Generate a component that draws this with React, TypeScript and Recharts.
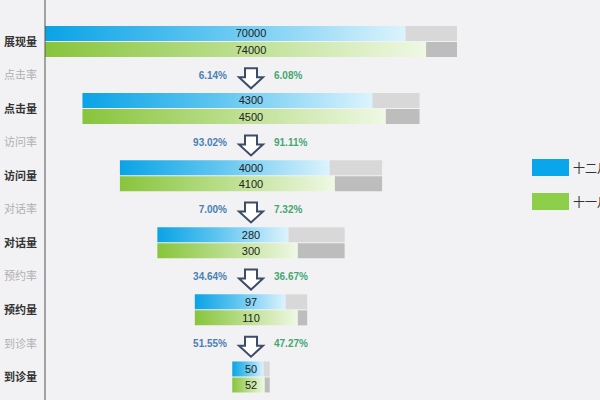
import React from 'react';
import { BarChart, Bar, XAxis, YAxis, ReferenceDot } from 'recharts';

// funnel stages and conversion rates
const stages = ['展现量', '点击量', '访问量', '对话量', '预约量', '到诊量'];
const rateNames = ['点击率', '访问率', '对话率', '预约率', '到诊率'];

const decValues = [70000, 4300, 4000, 280, 97, 50];
const novValues = [74000, 4500, 4100, 300, 110, 52];
// full length of each grey track
const trackMax = [80000, 5000, 5000, 400, 120, 60];
// display width of each funnel step
const stepWidth = [5.5, 4.5, 3.5, 2.5, 1.5, 0.5];

const decRates = ['6.14%', '93.02%', '7.00%', '34.64%', '51.55%'];
const novRates = ['6.08%', '91.11%', '7.32%', '36.67%', '47.27%'];

const seriesNames = ['十二月', '十一月'];
const seriesColors = ['#0aa6ec', '#8dcf4a'];

const FULL = 5.5;
const CN = '"Noto Sans CJK SC", "Noto Sans", sans-serif';

const rows: any[] = [];
stages.forEach((s, i) => {
    const w = stepWidth[i];
    const off = (FULL - w) / 2;
    const decFill = (w * decValues[i]) / trackMax[i];
    const novFill = (w * novValues[i]) / trackMax[i];
    rows.push({
        name: s,
        decOff: off, decFill, decRest: w - decFill,
        novOff: off, novFill, novRest: w - novFill,
    });
    if (i < rateNames.length) rows.push({ name: rateNames[i] });
});

const YTick = (props: any) => {
    const isRate = rateNames.includes(props.payload.value);
    return (
        <text x={37} y={props.y} dy="0.35em" textAnchor="end" fontFamily={CN} fontSize={11}
            fontWeight={isRate ? 400 : 700} fill={isRate ? '#b0b0b0' : '#333'}>
            {props.payload.value}
        </text>
    );
};

const rateShape = (i: number) => (p: any) => {
    const { cx, cy } = p;
    const arrow = `M${cx - 6},${cy - 7} L${cx + 6},${cy - 7} L${cx + 6},${cy + 2} L${cx + 12},${cy + 2} L${cx},${cy + 13} L${cx - 12},${cy + 2} L${cx - 6},${cy + 2} Z`;
    return (
        <g>
            <text x={cx - 24} y={cy} dy="0.35em" textAnchor="end" fontFamily="Arial, sans-serif" fontSize={10} fontWeight={700} fill="#4a80b3">
                {decRates[i]}
            </text>
            <path d={arrow} fill="#fff" stroke="#3d4d68" strokeWidth={2} strokeLinejoin="miter" />
            <text x={cx + 23} y={cy} dy="0.35em" textAnchor="start" fontFamily="Arial, sans-serif" fontSize={10} fontWeight={700} fill="#45a672">
                {novRates[i]}
            </text>
        </g>
    );
};

const valueShape = (i: number) => (p: any) => {
    const { cx, cy } = p;
    return (
        <g fontFamily="Arial, sans-serif" fontSize={11} fill="#222" textAnchor="middle">
            <text x={cx} y={cy - 8.3} dy="0.35em">{decValues[i]}</text>
            <text x={cx} y={cy + 8.3} dy="0.35em">{novValues[i]}</text>
        </g>
    );
};

export default function App() {
    return (
        <div style={{ position: 'fixed', left: 0, top: 0, width: 600, height: 400, background: '#f2f2f4', overflow: 'hidden' }}>
            <BarChart width={600} height={400} data={rows} layout="vertical"
                margin={{ top: 0, right: 143, bottom: 0, left: 0 }} barCategoryGap={1} barGap={1}>
                <defs>
                    <linearGradient id="gBlue" x1="0" y1="0" x2="1" y2="0">
                        <stop offset="0%" stopColor="#0aa3e6" />
                        <stop offset="45%" stopColor="#5cc4f0" />
                        <stop offset="100%" stopColor="#dcf3fd" />
                    </linearGradient>
                    <linearGradient id="gGreen" x1="0" y1="0" x2="1" y2="0">
                        <stop offset="0%" stopColor="#88c43c" />
                        <stop offset="45%" stopColor="#b6dc86" />
                        <stop offset="100%" stopColor="#eff8e4" />
                    </linearGradient>
                </defs>
                <XAxis type="number" domain={[0, FULL]} hide />
                <YAxis type="category" dataKey="name" width={45} tickLine={false}
                    axisLine={{ stroke: '#555' }} padding={{ top: 25, bottom: 6 }} tick={<YTick />} interval={0} />
                <Bar dataKey="decOff" stackId="dec" fill="transparent" isAnimationActive={false} />
                <Bar dataKey="decFill" stackId="dec" fill="url(#gBlue)" isAnimationActive={false} />
                <Bar dataKey="decRest" stackId="dec" fill="#d8d8d8" isAnimationActive={false} />
                <Bar dataKey="novOff" stackId="nov" fill="transparent" isAnimationActive={false} />
                <Bar dataKey="novFill" stackId="nov" fill="url(#gGreen)" isAnimationActive={false} />
                <Bar dataKey="novRest" stackId="nov" fill="#bdbdbd" isAnimationActive={false} />
                {stages.map((s, i) => (
                    <ReferenceDot key={s} x={FULL / 2} y={s} r={0} shape={valueShape(i)} />
                ))}
                {rateNames.map((s, i) => (
                    <ReferenceDot key={s} x={FULL / 2} y={s} r={0} shape={rateShape(i)} />
                ))}
            </BarChart>
            <div style={{ position: 'absolute', left: 532, top: 159, fontFamily: CN, fontSize: 12, color: '#333' }}>
                {seriesNames.map((n, i) => (
                    <div key={n} style={{ display: 'flex', alignItems: 'center', height: 17, marginBottom: 17, whiteSpace: 'nowrap' }}>
                        <span style={{ width: 37, height: 17, background: seriesColors[i], marginRight: 4, display: 'inline-block' }} />
                        {n}
                    </div>
                ))}
            </div>
        </div>
    );
}
